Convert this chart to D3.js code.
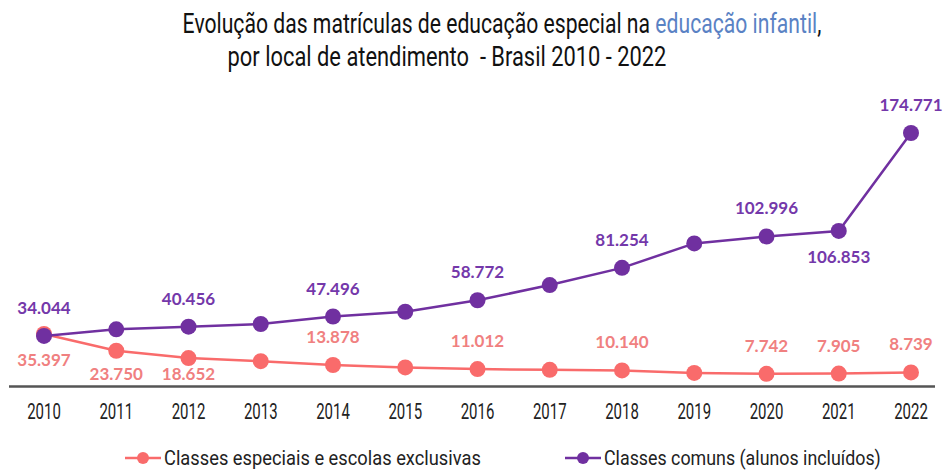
<!DOCTYPE html>
<html>
<head>
<meta charset="utf-8">
<script src="https://cdn.jsdelivr.net/npm/d3@7"></script>
<style>
  body { margin: 0; background: #fff; }
  svg { display: block; }
</style>
</head>
<body>
<div id="chart"></div>
<script>
// data
const years = ["2010","2011","2012","2013","2014","2015","2016","2017","2018","2019","2020","2021","2022"]
const especiais = [35397, 23750, 18652, 16500, 13878, 12200, 11012, 10500, 10140, 8400, 7742, 7905, 8739]
const comuns = [34044, 38600, 40456, 42300, 47496, 50800, 58772, 69300, 81254, 98200, 102996, 106853, 174771]
// which points carry a label, and where (-1 above, +1 below, 0 none)
const especiaisLabelPos = [1, 1, 1, 0, -1, 0, -1, 0, -1, 0, -1, -1, -1]
const comunsLabelPos = [-1, 0, -1, 0, -1, 0, -1, 0, -1, 0, -1, 1, -1]
const seriesNames = ["Classes especiais e escolas exclusivas", "Classes comuns (alunos incluídos)"]

const width = 945, height = 470
const redLine = "#f96b6b", redText = "#f08080"
const purpleLine = "#7030a0", purpleText = "#7438aa"

const svg = d3.select("#chart").append("svg")
  .attr("width", width)
  .attr("height", height)

const x = d3.scalePoint().domain(years).range([44, 911])
const y = d3.scaleLinear().domain([0, d3.max(comuns)]).range([385, 133])

// squeeze text horizontally to get the narrow look of the original font
function squeeze(sel, k, tx, ty) {
  sel.attr("transform", `translate(${tx},${ty}) scale(${k},1)`)
}
// squeeze a text so it ends up exactly w pixels wide
function fitWidth(sel, w, tx, ty) {
  let natural = sel.node().getComputedTextLength()
  squeeze(sel, w / natural, tx, ty)
}

// title
const t1 = svg.append("text")
  .attr("text-anchor", "middle")
  .style("font-family", "Roboto")
  .style("font-size", "27px")
  .style("fill", "#111")
t1.append("tspan").text("Evolução das matrículas de educação especial na ")
t1.append("tspan").style("fill", "#5a82c4").text("educação infantil")
t1.append("tspan").text(",")
fitWidth(t1, 639, 502, 33)

const t2 = svg.append("text")
  .attr("text-anchor", "middle")
  .style("font-family", "Roboto")
  .style("font-size", "27px")
  .style("fill", "#111")
  .style("white-space", "pre")
  .text("por local de atendimento  - Brasil 2010 - 2022")
fitWidth(t2, 439, 447, 66)

// x axis: plain line with year labels, no ticks
svg.append("line")
  .attr("x1", 9).attr("x2", 935)
  .attr("y1", 386.5).attr("y2", 386.5)
  .attr("stroke", "#555")
  .attr("stroke-width", 2.5)

svg.append("g").selectAll("text")
  .data(years)
  .enter().append("text")
  .attr("text-anchor", "middle")
  .style("font-family", "Roboto")
  .style("font-size", "22px")
  .style("fill", "#222")
  .text(d => d)
  .each(function(d) { squeeze(d3.select(this), 0.68, x(d), 419) })

const line = d3.line()
  .x((d, i) => x(years[i]))
  .y(d => y(d))

function drawSeries(values, labelPos, lineColor, textColor) {
  const g = svg.append("g")
  g.append("path")
    .datum(values)
    .attr("d", line)
    .attr("fill", "none")
    .attr("stroke", lineColor)
    .attr("stroke-width", 2.5)

  g.selectAll("circle")
    .data(values)
    .enter().append("circle")
    .attr("cx", (d, i) => x(years[i]))
    .attr("cy", d => y(d))
    .attr("r", 8)
    .attr("fill", lineColor)

  g.selectAll("text")
    .data(values.map((v, i) => ({ v: v, i: i, pos: labelPos[i] })).filter(d => d.pos != 0))
    .enter().append("text")
    .attr("x", d => x(years[d.i]))
    .attr("y", d => d.pos < 0 ? y(d.v) - 22 : Math.min(y(d.v) + 32, 380))
    .attr("text-anchor", "middle")
    .style("font-family", "Lato")
    .style("font-weight", "bold")
    .style("font-size", "17px")
    .style("fill", textColor)
    .text(d => d3.format(",")(d.v).replace(/,/g, "."))
}

drawSeries(especiais, especiaisLabelPos, redLine, redText)
drawSeries(comuns, comunsLabelPos, purpleLine, purpleText)

// legend
const legend = svg.append("g")
const legendItems = [
  { name: seriesNames[0], color: redLine, x0: 125, w: 317 },
  { name: seriesNames[1], color: purpleLine, x0: 565, w: 277 }
]
legendItems.forEach(function(d) {
  legend.append("line")
    .attr("x1", d.x0).attr("x2", d.x0 + 36)
    .attr("y1", 458).attr("y2", 458)
    .attr("stroke", d.color)
    .attr("stroke-width", 2.5)
  legend.append("circle")
    .attr("cx", d.x0 + 18).attr("cy", 458)
    .attr("r", 6)
    .attr("fill", d.color)
  const lt = legend.append("text")
    .style("font-family", "Roboto")
    .style("font-size", "21px")
    .style("fill", "#222")
    .text(d.name)
  fitWidth(lt, d.w, d.x0 + 39, 465)
})
</script>
</body>
</html>
